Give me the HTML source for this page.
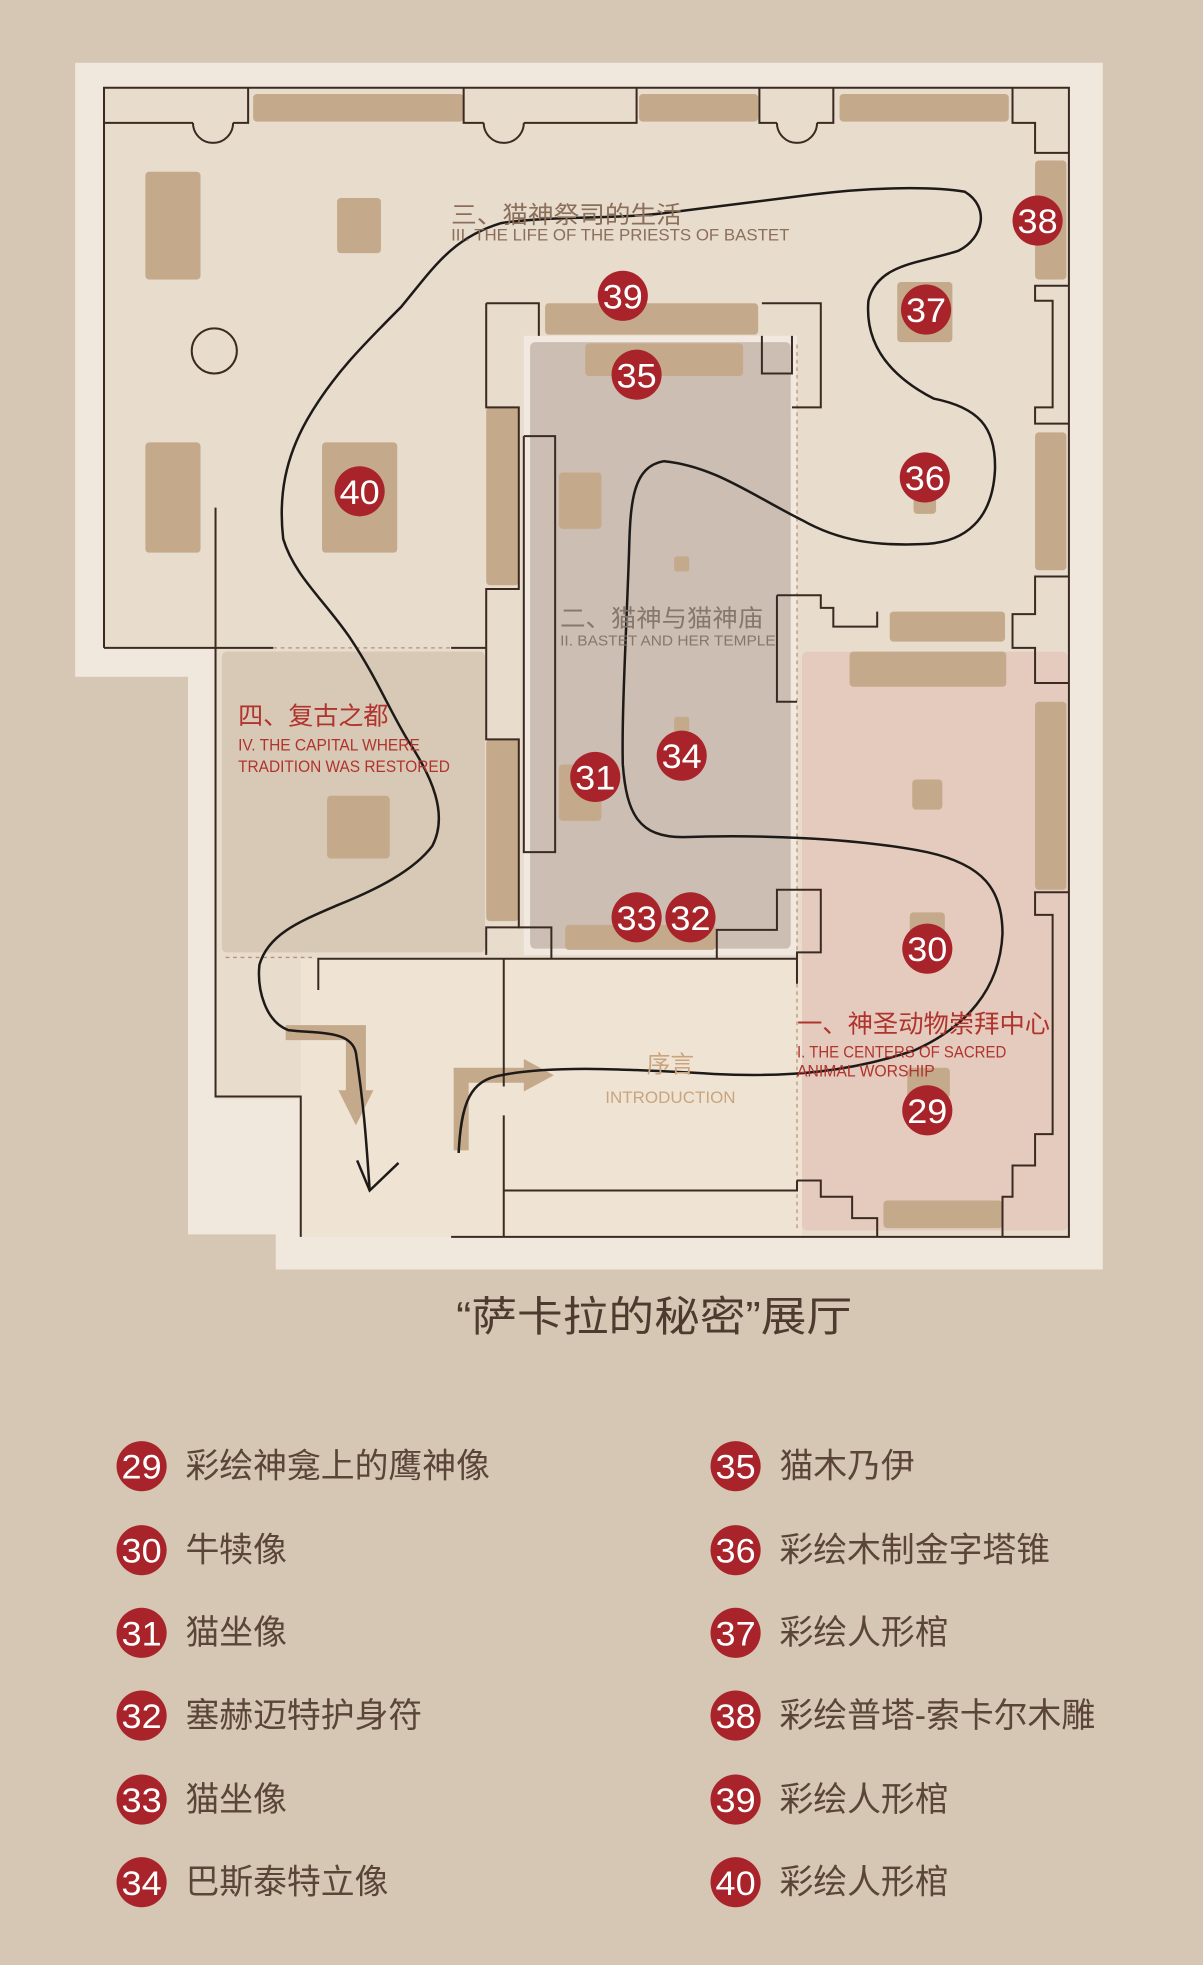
<!DOCTYPE html>
<html><head><meta charset="utf-8"><style>
html,body{margin:0;padding:0;background:#d6c6b4;}
svg{display:block}
</style></head><body>
<svg width="1203" height="1965" viewBox="0 0 960 1568" xmlns="http://www.w3.org/2000/svg" font-family="'Liberation Sans','Noto Sans CJK SC',sans-serif">
<rect x="0" y="0" width="960" height="1568" fill="#d6c6b4"/>
<polygon points="60,50 880,50 880,1013 220,1013 220,985 150,985 150,540 60,540" fill="#f0e8dd"/>
<polygon points="83,70 853,70 853,987 240,987 240,875 172,875 172,517 83,517" fill="#e8dccd"/>
<rect x="172" y="517" width="240" height="360" fill="#e8dccd"/>
<rect x="240" y="765" width="400" height="222" fill="#efe4d4"/>
<rect x="177" y="520" width="210" height="240" rx="4" fill="#d8c8b6"/>
<rect x="418" y="268" width="218" height="494" fill="#f1e9df"/>
<rect x="423" y="273" width="208" height="484" rx="4" fill="#ccbeb3"/>
<rect x="640" y="520" width="212" height="462" rx="4" fill="#e5cbbe"/>
<line x1="636" y1="275" x2="636" y2="980" stroke="#b98f78" stroke-width="1" stroke-dasharray="3,3"/>
<line x1="218" y1="517" x2="360" y2="517" stroke="#b98f78" stroke-width="1" stroke-dasharray="3,3"/>
<line x1="180" y1="764" x2="250" y2="764" stroke="#b98f78" stroke-width="1" stroke-dasharray="3,3"/>
<g fill="#c4a98b">
<rect x="202" y="75" width="168" height="22" rx="3"/>
<rect x="510" y="75" width="95" height="22" rx="3"/>
<rect x="670" y="75" width="135" height="22" rx="3"/>
<rect x="116" y="137" width="44" height="86" rx="3"/>
<rect x="269" y="158" width="35" height="44" rx="3"/>
<rect x="116" y="353" width="44" height="88" rx="3"/>
<rect x="257" y="353" width="60" height="88" rx="3"/>
<rect x="435" y="242" width="170" height="25" rx="3"/>
<rect x="467" y="274" width="126" height="26" rx="3"/>
<rect x="388" y="325" width="26" height="142" rx="3"/>
<rect x="388" y="590" width="26" height="145" rx="3"/>
<rect x="446" y="377" width="34" height="45" rx="3"/>
<rect x="538" y="444" width="12" height="12" rx="2"/>
<rect x="538" y="572" width="12" height="12" rx="2"/>
<rect x="446" y="610" width="34" height="45" rx="3"/>
<rect x="451" y="738" width="120" height="20" rx="3"/>
<rect x="261" y="635" width="50" height="50" rx="3"/>
<rect x="826" y="128" width="25" height="95" rx="3"/>
<rect x="716" y="225" width="44" height="48" rx="3"/>
<rect x="826" y="345" width="25" height="110" rx="3"/>
<rect x="729" y="395" width="18" height="15" rx="3"/>
<rect x="710" y="488" width="92" height="24" rx="3"/>
<rect x="678" y="520" width="125" height="28" rx="3"/>
<rect x="826" y="560" width="25" height="150" rx="3"/>
<rect x="728" y="622" width="24" height="24" rx="3"/>
<rect x="726" y="728" width="28" height="20" rx="3"/>
<rect x="724" y="852" width="34" height="24" rx="3"/>
<rect x="705" y="958" width="95" height="22" rx="3"/>
<polygon points="228,818 292,818 292,870 298,870 284,898 270,870 276,870 276,830 228,830"/>
<polygon points="362,852 418,852 418,845 442,858 418,871 418,864 374,864 374,918 362,918"/>
</g>
<g fill="none" stroke="#3b2a22" stroke-width="1.6">
<polyline points="83,517 83,70 853,70 853,987 360,987"/>
<polyline points="83,98 154,98"/><path d="M154,98 A16,16 0 0 0 186,98"/><polyline points="186,98 198,98 198,70"/>
<polyline points="370,70 370,98 386,98"/><path d="M386,98 A16,16 0 0 0 418,98"/><polyline points="418,98 508,98 508,70"/>
<polyline points="606,70 606,98 620,98"/><path d="M620,98 A16,16 0 0 0 652,98"/><polyline points="652,98 665,98 665,70"/>
<polyline points="808,70 808,98 826,98 826,122 853,122"/>
<polyline points="853,228 826,228 826,240 840,240 840,325 826,325 826,338 853,338"/>
<polyline points="853,460 826,460 826,490 808,490 808,517 826,517 826,545 853,545"/>
<polyline points="853,712 826,712 826,730 840,730 840,905 826,905 826,930 808,930 808,955 800,955 800,987"/>
<polyline points="700,987 700,972 680,972 680,955 655,955 655,942 636,942"/>
<polyline points="83,517 218,517"/><polyline points="360,517 388,517"/>
<circle cx="171" cy="280" r="18"/>
<polyline points="172,405 172,875 240,875 240,987"/>
<polyline points="388,242 430,242 430,268"/>
<polyline points="388,242 388,325 414,325 414,470 388,470 388,590 414,590 414,740 388,740 388,762"/>
<polyline points="608,242 655,242 655,325 632,325"/>
<polyline points="418,348 443,348 443,680 418,680 418,348"/>
<polyline points="632,268 632,298 608,298 608,268"/>
<polyline points="254,790 254,765 636,765"/>
<polyline points="414,740 440,740 440,765"/>
<polyline points="402,765 402,867"/><polyline points="402,890 402,987"/>
<polyline points="402,950 636,950 636,942"/>
<polyline points="572,765 572,742 620,742 620,710 655,710 655,760 636,760 636,785"/>
<polyline points="620,475 655,475 655,485 665,485 665,500 700,500 700,488"/>
<polyline points="620,475 620,560 636,560"/>
</g>
<path d="M295,950 C292,905 290,880 284,840 C280,822 255,825 230,822 C212,815 205,790 207,770 C214,745 240,735 270,722 C300,710 330,695 345,675 C358,650 345,620 325,590 C310,565 300,540 280,510 C260,480 235,460 226,430 C222,395 228,365 245,335 C265,300 290,275 320,245 C345,215 360,190 400,178 C440,172 490,175 530,170 C570,165 610,160 650,155 C690,150 740,148 770,153 C790,165 785,190 765,200 C735,210 700,210 693,240 C690,275 710,300 745,318 C780,325 795,340 794,375 C792,415 770,432 740,434 C700,436 670,432 640,415 C600,395 570,372 530,368 C505,372 503,400 502,440 C500,500 496,570 497,610 C500,650 510,668 545,668 C600,666 680,668 740,680 C785,690 800,710 800,745 C798,790 770,820 730,838 C680,855 630,860 570,857 C500,853 440,850 400,858 C375,862 368,880 366,920" fill="none" stroke="#1e1a18" stroke-width="2"/>
<polyline points="285,926 295,950 318,928" fill="none" stroke="#1e1a18" stroke-width="2"/>
<g fill="#8b6f5b">
<text x="360" y="178" font-size="19" textLength="184" lengthAdjust="spacingAndGlyphs">三、猫神祭司的生活</text>
<text x="360" y="192" font-size="13" textLength="270" lengthAdjust="spacingAndGlyphs">III. THE LIFE OF THE PRIESTS OF BASTET</text>
</g>
<g fill="#857769">
<text x="447" y="500" font-size="19" textLength="162" lengthAdjust="spacingAndGlyphs">二、猫神与猫神庙</text>
<text x="447" y="515" font-size="12" textLength="172" lengthAdjust="spacingAndGlyphs">II. BASTET AND HER TEMPLE</text>
</g>
<g fill="#b0342e">
<text x="190" y="578" font-size="20" textLength="120" lengthAdjust="spacingAndGlyphs">四、复古之都</text>
<text x="190" y="599" font-size="13" textLength="145" lengthAdjust="spacingAndGlyphs">IV. THE CAPITAL WHERE</text>
<text x="190" y="616" font-size="13" textLength="169" lengthAdjust="spacingAndGlyphs">TRADITION WAS RESTORED</text>
<text x="636" y="824" font-size="20" textLength="202" lengthAdjust="spacingAndGlyphs">一、神圣动物崇拜中心</text>
<text x="636" y="844" font-size="13" textLength="167" lengthAdjust="spacingAndGlyphs">I. THE CENTERS OF SACRED</text>
<text x="636" y="859" font-size="13" textLength="110" lengthAdjust="spacingAndGlyphs">ANIMAL WORSHIP</text>
</g>
<g fill="#c9a47e" text-anchor="middle">
<text x="535" y="856" font-size="19">序言</text>
<text x="535" y="880" font-size="13" textLength="104" lengthAdjust="spacingAndGlyphs">INTRODUCTION</text>
</g>
<g font-size="27" fill="#fff" text-anchor="middle">
<g><circle cx="828" cy="176" r="20" fill="#a8242a"/><text x="828" y="186" textLength="32" lengthAdjust="spacingAndGlyphs">38</text></g>
<g><circle cx="739" cy="247" r="20" fill="#a8242a"/><text x="739" y="257" textLength="32" lengthAdjust="spacingAndGlyphs">37</text></g>
<g><circle cx="497" cy="236" r="20" fill="#a8242a"/><text x="497" y="246" textLength="32" lengthAdjust="spacingAndGlyphs">39</text></g>
<g><circle cx="508" cy="299" r="20" fill="#a8242a"/><text x="508" y="309" textLength="32" lengthAdjust="spacingAndGlyphs">35</text></g>
<g><circle cx="287" cy="392" r="20" fill="#a8242a"/><text x="287" y="402" textLength="32" lengthAdjust="spacingAndGlyphs">40</text></g>
<g><circle cx="738" cy="381" r="20" fill="#a8242a"/><text x="738" y="391" textLength="32" lengthAdjust="spacingAndGlyphs">36</text></g>
<g><circle cx="544" cy="603" r="20" fill="#a8242a"/><text x="544" y="613" textLength="32" lengthAdjust="spacingAndGlyphs">34</text></g>
<g><circle cx="475" cy="620" r="20" fill="#a8242a"/><text x="475" y="630" textLength="32" lengthAdjust="spacingAndGlyphs">31</text></g>
<g><circle cx="508" cy="732" r="20" fill="#a8242a"/><text x="508" y="742" textLength="32" lengthAdjust="spacingAndGlyphs">33</text></g>
<g><circle cx="551" cy="732" r="20" fill="#a8242a"/><text x="551" y="742" textLength="32" lengthAdjust="spacingAndGlyphs">32</text></g>
<g><circle cx="740" cy="757" r="20" fill="#a8242a"/><text x="740" y="767" textLength="32" lengthAdjust="spacingAndGlyphs">30</text></g>
<g><circle cx="740" cy="886" r="20" fill="#a8242a"/><text x="740" y="896" textLength="32" lengthAdjust="spacingAndGlyphs">29</text></g>
</g>
<text x="522" y="1062" font-size="33" fill="#4e3b2f" text-anchor="middle" textLength="316" lengthAdjust="spacingAndGlyphs">“萨卡拉的秘密”展厅</text>
<g font-size="27" fill="#fff" text-anchor="middle">
<circle cx="113" cy="1170" r="20" fill="#a8242a"/><text x="113" y="1180" textLength="32" lengthAdjust="spacingAndGlyphs">29</text>
<circle cx="113" cy="1237" r="20" fill="#a8242a"/><text x="113" y="1247" textLength="32" lengthAdjust="spacingAndGlyphs">30</text>
<circle cx="113" cy="1303" r="20" fill="#a8242a"/><text x="113" y="1313" textLength="32" lengthAdjust="spacingAndGlyphs">31</text>
<circle cx="113" cy="1369" r="20" fill="#a8242a"/><text x="113" y="1379" textLength="32" lengthAdjust="spacingAndGlyphs">32</text>
<circle cx="113" cy="1436" r="20" fill="#a8242a"/><text x="113" y="1446" textLength="32" lengthAdjust="spacingAndGlyphs">33</text>
<circle cx="113" cy="1502" r="20" fill="#a8242a"/><text x="113" y="1512" textLength="32" lengthAdjust="spacingAndGlyphs">34</text>
<circle cx="587" cy="1170" r="20" fill="#a8242a"/><text x="587" y="1180" textLength="32" lengthAdjust="spacingAndGlyphs">35</text>
<circle cx="587" cy="1237" r="20" fill="#a8242a"/><text x="587" y="1247" textLength="32" lengthAdjust="spacingAndGlyphs">36</text>
<circle cx="587" cy="1303" r="20" fill="#a8242a"/><text x="587" y="1313" textLength="32" lengthAdjust="spacingAndGlyphs">37</text>
<circle cx="587" cy="1369" r="20" fill="#a8242a"/><text x="587" y="1379" textLength="32" lengthAdjust="spacingAndGlyphs">38</text>
<circle cx="587" cy="1436" r="20" fill="#a8242a"/><text x="587" y="1446" textLength="32" lengthAdjust="spacingAndGlyphs">39</text>
<circle cx="587" cy="1502" r="20" fill="#a8242a"/><text x="587" y="1512" textLength="32" lengthAdjust="spacingAndGlyphs">40</text>
</g>
<g font-size="27" fill="#5a4538">
<text x="148" y="1179">彩绘神龛上的鹰神像</text>
<text x="148" y="1246">牛犊像</text>
<text x="148" y="1312">猫坐像</text>
<text x="148" y="1378">塞赫迈特护身符</text>
<text x="148" y="1445">猫坐像</text>
<text x="148" y="1511">巴斯泰特立像</text>
<text x="622" y="1179">猫木乃伊</text>
<text x="622" y="1246">彩绘木制金字塔锥</text>
<text x="622" y="1312">彩绘人形棺</text>
<text x="622" y="1378">彩绘普塔-索卡尔木雕</text>
<text x="622" y="1445">彩绘人形棺</text>
<text x="622" y="1511">彩绘人形棺</text>
</g>
</svg>
</body></html>
